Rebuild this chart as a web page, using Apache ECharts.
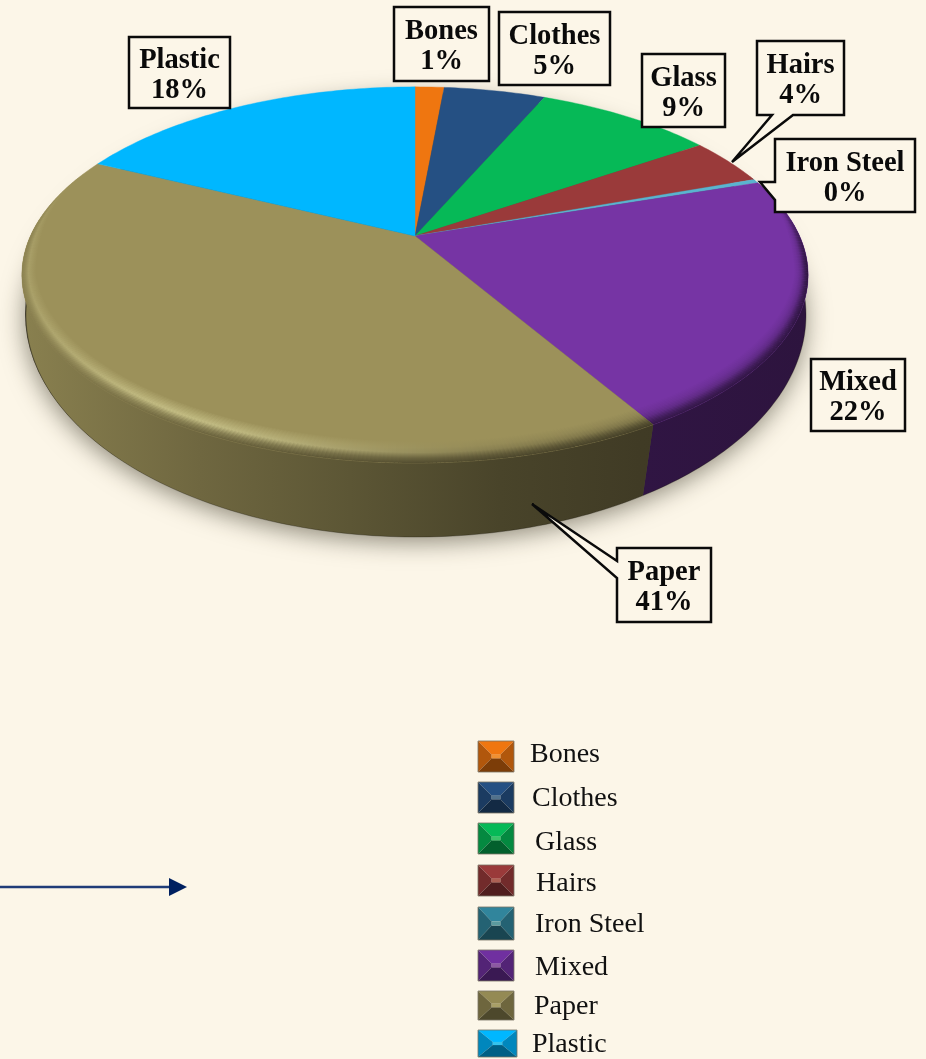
<!DOCTYPE html>
<html>
<head>
<meta charset="utf-8">
<script src="https://cdn.jsdelivr.net/npm/echarts@6/dist/echarts.min.js"></script>
<style>
html, body { margin: 0; padding: 0; background: #fcf6e8; }
#chart { width: 926px; height: 1059px; }
</style>
</head>
<body>
<div id="chart"></div>
<script>
// values, percent
var categories = ['Bones', 'Clothes', 'Glass', 'Hairs', 'Iron Steel', 'Mixed', 'Paper', 'Plastic'];
var shares = [1.46, 5.1, 8.94, 4.06, 0.34, 21.6, 40.7, 17.8];
var percentLabels = ['1%', '5%', '9%', '4%', '0%', '22%', '41%', '18%'];
var sliceColors = ['#ef7610', '#255083', '#06b957', '#9a3a3a', '#5ab4cf', '#7634a4', '#9c915a', '#00b7ff'];
var swatchColors = ['#ef7610', '#255083', '#06b957', '#9a3a3a', '#31859c', '#7030a0', '#948a54', '#00b7ff'];

// label boxes [x, y, w, h], and callouts [base1x, base1y, tipx, tipy, base2x, base2y]
var labelBoxes = [[394, 7, 95, 74], [499, 12, 111, 73], [642, 54, 83, 73], [757, 41, 87, 74],
    [775, 139, 140, 73], [811, 359, 94, 72], [617, 548, 94, 74], [129, 37, 101, 71]];
var labelCallouts = [null, null, null, [793, 115, 732, 162, 772, 115], [775, 200, 760, 182, 775, 182],
    null, [617, 578, 532, 504, 617, 561], null];
var swatchBoxes = [[478, 741, 36, 31], [478, 782, 36, 31], [478, 823, 36, 31], [478, 865, 36, 31],
    [478, 907, 36, 33], [478, 950, 36, 31], [478, 991, 36, 29], [478, 1030, 39, 27]];
var legendTextX = [530, 532, 535, 536, 535, 535, 534, 532];
var legendTextY = [755, 799, 843, 884, 925, 968, 1007, 1045];

var serifFont = '"Liberation Serif", serif';
var apexX = 415, apexY = 236, persp = 0.207, projRx = 384.6, projA = 180;
var ellCy = 275, ellRx = 393, ellRy = 188;
var baseCx = 416, baseCy = 315, baseRx = 390, baseRy = 222;
var deg = Math.PI / 180;

function rgb(hex) {
    return [parseInt(hex.substr(1, 2), 16), parseInt(hex.substr(3, 2), 16), parseInt(hex.substr(5, 2), 16)];
}
function css(c) {
    return 'rgb(' + Math.round(c[0]) + ',' + Math.round(c[1]) + ',' + Math.round(c[2]) + ')';
}
function shade(hex, f) {
    var c = rgb(hex);
    return css([c[0] * f, c[1] * f, c[2] * f]);
}
function tint(hex, f) {
    var c = rgb(hex);
    return css([c[0] + (240 - c[0]) * f, c[1] + (235 - c[1]) * f, c[2] + (170 - c[2]) * f]);
}
function rimColor(hex, glow, dark) {
    var c = rgb(hex);
    return css([(c[0] + (240 - c[0]) * glow) * dark, (c[1] + (235 - c[1]) * glow) * dark, (c[2] + (170 - c[2]) * glow) * dark]);
}
function smooth(a, b, x) {
    var t = Math.max(0, Math.min(1, (x - a) / (b - a)));
    return t * t * (3 - 2 * t);
}

// angle from north, clockwise -> point on the tilted top face
function topPoint(theta) {
    var s = -Math.cos(theta), c = Math.sin(theta), d = 1 - persp * s;
    return [apexX + projRx * c / d, apexY + projA * s / d];
}
function phiOf(p) {
    var phi = Math.atan2((p[1] - ellCy) / ellRy, (p[0] - apexX) / ellRx);
    return phi < -Math.PI / 2 ? phi + 2 * Math.PI : phi;
}
function basePoint(phi) {
    var q = phi + 0.05 * Math.cos(phi);
    return [baseCx + baseRx * Math.cos(q), baseCy + baseRy * Math.sin(q)];
}
function sliceRange(i) {
    var start = 0;
    for (var k = 0; k < i; k++) start += shares[k];
    return [start * 3.6 * deg, (start + shares[i]) * 3.6 * deg];
}
function arcAngles(a0, a1, step) {
    var out = [a0], t = a0 + step;
    while (t < a1) { out.push(t); t += step; }
    out.push(a1);
    return out;
}
// inner edge of the bevel stays on the radial line so slice borders run straight
function rimInner(p, phi, t) {
    var g = 1 - t * (0.036 + 0.061 * Math.max(Math.sin(phi), 0));
    return [apexX + (p[0] - apexX) * g, apexY + (p[1] - apexY) * g];
}
// wall darkness along x, light comes from the left
function wallFactor(x) {
    var xs = [22, 200, 350, 500, 640, 810], fs = [0.88, 0.71, 0.59, 0.47, 0.41, 0.38];
    for (var i = 1; i < xs.length; i++) {
        if (x <= xs[i]) return fs[i - 1] + (fs[i] - fs[i - 1]) * (x - xs[i - 1]) / (xs[i] - xs[i - 1]);
    }
    return 0.38;
}
function wallFill(hex) {
    var stops = [], xs = [22, 200, 350, 500, 640, 810];
    xs.forEach(function (x) {
        stops.push({ offset: (x - 22) / 788, color: shade(hex, wallFactor(x)) });
    });
    return new echarts.graphic.LinearGradient(22, 0, 810, 0, stops, true);
}

function renderShadow() {
    var pts = [];
    for (var a = 0; a < 360; a += 3) pts.push([baseCx + baseRx * Math.cos(a * deg) - 1, baseCy + baseRy * Math.sin(a * deg) - 1]);
    return {
        type: 'polygon', shape: { points: pts },
        style: { fill: '#4a4636', shadowBlur: 24, shadowColor: 'rgba(50,45,30,0.55)', shadowOffsetY: 6, shadowOffsetX: 0 }
    };
}
function renderWall(params) {
    var i = params.dataIndex, r = sliceRange(i), upper = [], lower = [];
    arcAngles(r[0], r[1], deg).forEach(function (t) {
        var p = topPoint(t), phi = phiOf(p);
        if (Math.sin(phi) > -0.3) {
            upper.push(p);
            lower.push(basePoint(phi));
        }
    });
    if (upper.length < 2) return null;
    return {
        type: 'group',
        children: [{
            type: 'polygon', shape: { points: upper.concat(lower.slice().reverse()) },
            style: { fill: wallFill(sliceColors[i]) }
        }, {
            type: 'polyline', shape: { points: lower },
            style: { fill: null, stroke: 'rgba(20,15,5,0.3)', lineWidth: 1 }
        }]
    };
}
function renderTop(params) {
    var i = params.dataIndex, r = sliceRange(i), pts = [[apexX, apexY]];
    arcAngles(r[0], r[1], deg).forEach(function (t) { pts.push(topPoint(t)); });
    return {
        type: 'polygon', shape: { points: pts },
        style: { fill: sliceColors[i], stroke: sliceColors[i], lineWidth: 0.4 }
    };
}
function renderRim(params) {
    var i = params.dataIndex, r = sliceRange(i), hex = sliceColors[i], kids = [];
    var angles = arcAngles(r[0], r[1], deg / 2);
    for (var n = 0; n < angles.length - 1; n++) {
        // a hair of overlap hides the seams between neighbouring quads
        var a0 = angles[n], a1 = Math.min(angles[n + 1] + 0.002, r[1]);
        var p0 = topPoint(a0), p1 = topPoint(a1), phi0 = phiOf(p0), phi1 = phiOf(p1);
        var t0 = smooth(-0.6, -0.05, Math.sin(phi0)), t1 = smooth(-0.6, -0.05, Math.sin(phi1));
        if (t0 <= 0 && t1 <= 0) continue;
        var in0 = rimInner(p0, phi0, t0), in1 = rimInner(p1, phi1, t1);
        // highlight strongest towards the lower left of the rim
        var dist = (phi0 - 120 * deg) / (30 * deg);
        var glow = 0.62 * Math.exp(-dist * dist) + 0.22 * smooth(1.9, 2.8, phi0) * t0;
        var lost = (1 - wallFactor(p0[0])) * t0;
        var stops = [
            { offset: 0, color: hex },
            { offset: 0.3, color: rimColor(hex, glow * 0.5, 1 - lost * 0.12) },
            { offset: 0.52, color: rimColor(hex, glow, 1 - lost * 0.3) },
            { offset: 0.78, color: rimColor(hex, glow * 0.35, 1 - lost * 0.75) },
            { offset: 1, color: rimColor(hex, 0, 1 - lost) }
        ];
        kids.push({
            type: 'polygon', shape: { points: [in0, in1, p1, p0] },
            style: { fill: new echarts.graphic.LinearGradient(in0[0], in0[1], p0[0], p0[1], stops, true) }
        });
    }
    return { type: 'group', children: kids };
}
function renderLabel(params) {
    var i = params.dataIndex, b = labelBoxes[i], c = labelCallouts[i];
    var x0 = b[0], y0 = b[1], x1 = b[0] + b[2], y1 = b[1] + b[3], pts;
    if (c && c[1] === y1) {
        pts = [[x0, y0], [x1, y0], [x1, y1], [c[0], c[1]], [c[2], c[3]], [c[4], c[5]], [x0, y1]];
    } else if (c) {
        pts = [[x0, y0], [x1, y0], [x1, y1], [x0, y1], [c[0], c[1]], [c[2], c[3]], [c[4], c[5]]];
    } else {
        pts = [[x0, y0], [x1, y0], [x1, y1], [x0, y1]];
    }
    return {
        type: 'group',
        children: [{
            type: 'polygon', shape: { points: pts },
            style: { fill: '#fcf6e8', stroke: '#0a0a0a', lineWidth: 2.5, lineJoin: 'miter', miterLimit: 3 }
        }, {
            type: 'text',
            style: {
                text: categories[i] + '\n' + percentLabels[i],
                x: x0 + b[2] / 2, y: y0 + b[3] / 2 + 3,
                align: 'center', verticalAlign: 'middle',
                font: 'bold 28.5px ' + serifFont, lineHeight: 30, fill: '#0a0a0a'
            }
        }]
    };
}

function swatch(i) {
    var b = swatchBoxes[i], hex = swatchColors[i];
    var x = b[0], y = b[1], w = b[2], h = b[3], ix = w * 0.38, iy = h * 0.44;
    var a = [x, y], c = [x + w, y], d = [x + w, y + h], e = [x, y + h];
    var f = [x + ix, y + iy], g = [x + w - ix, y + iy], k = [x + w - ix, y + h - iy], l = [x + ix, y + h - iy];
    function facet(points, fill) {
        return { type: 'polygon', shape: { points: points }, style: { fill: fill } };
    }
    return {
        type: 'group',
        children: [
            facet([a, c, g, f], hex),
            facet([c, d, k, g], shade(hex, 0.74)),
            facet([a, f, l, e], shade(hex, 0.74)),
            facet([e, l, k, d], shade(hex, 0.52)),
            facet([f, g, k, l], tint(hex, 0.22)),
            { type: 'rect', shape: { x: x, y: y, width: w, height: h },
              style: { fill: null, stroke: 'rgba(120,115,100,0.8)', lineWidth: 1 } }
        ]
    };
}
var legendGraphics = [];
categories.forEach(function (name, i) {
    legendGraphics.push(swatch(i));
    legendGraphics.push({
        type: 'text',
        style: { text: name, x: legendTextX[i], y: legendTextY[i], verticalAlign: 'middle',
                 font: '28px ' + serifFont, fill: '#111111' }
    });
});
// arrow at the lower left
legendGraphics.push({ type: 'line', shape: { x1: 0, y1: 887, x2: 172, y2: 887 },
    style: { stroke: '#1f3c78', lineWidth: 2.5 } });
legendGraphics.push({ type: 'polygon', shape: { points: [[169, 878], [187, 887], [169, 896]] },
    style: { fill: '#002060' } });

var sliceData = categories.map(function (name, i) {
    return { name: name, value: [shares[i], i] };
});

var chart = echarts.init(document.getElementById('chart'));
chart.setOption({
    backgroundColor: '#fcf6e8',
    animation: false,
    graphic: legendGraphics,
    series: [
        { type: 'custom', coordinateSystem: 'none', silent: true, z: 1, data: [[0, 0]], renderItem: renderShadow },
        { type: 'custom', coordinateSystem: 'none', silent: true, z: 2, data: sliceData, renderItem: renderWall },
        { type: 'custom', coordinateSystem: 'none', silent: true, z: 3, data: sliceData, renderItem: renderTop },
        { type: 'custom', coordinateSystem: 'none', silent: true, z: 4, data: sliceData, renderItem: renderRim },
        { type: 'custom', coordinateSystem: 'none', silent: true, z: 5, data: sliceData, renderItem: renderLabel }
    ]
});
</script>
</body>
</html>
